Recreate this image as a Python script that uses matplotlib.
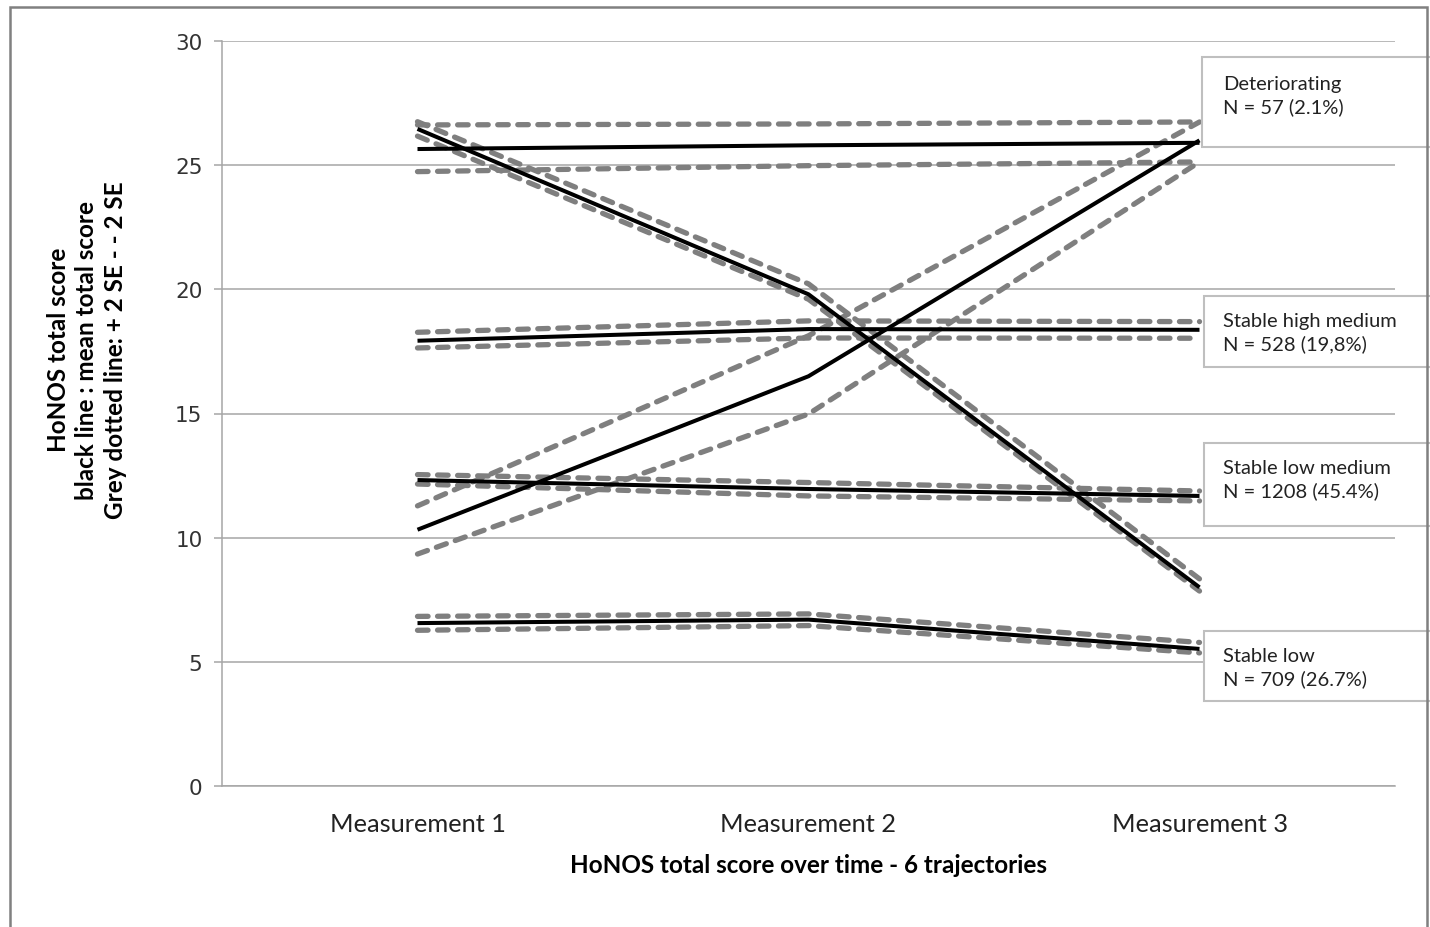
import numpy as np
import matplotlib.pyplot as plt
from matplotlib.patches import Rectangle

# categories on the x axis
measurements = ["Measurement 1", "Measurement 2", "Measurement 3"]

# mean total score per trajectory (black lines)
stable_high = [25.65, 25.8, 25.9]
improving = [26.46, 19.8, 8.0]
deteriorating = [10.32, 16.5, 26.0]
stable_high_medium = [17.93, 18.4, 18.37]
stable_low_medium = [12.32, 11.96, 11.68]
stable_low = [6.56, 6.7, 5.52]

# + 2 SE / - 2 SE bounds (grey dashed lines)
stable_high_upper = [26.62, 26.66, 26.74]
stable_high_lower = [24.74, 24.98, 25.13]
improving_upper = [26.75, 20.22, 8.34]
improving_lower = [26.17, 19.6, 7.85]
deteriorating_upper = [11.28, 18.13, 26.74]
deteriorating_lower = [9.34, 14.98, 25.13]
shm_upper = [18.27, 18.73, 18.7]
shm_lower = [17.64, 18.04, 18.03]
slm_upper = [12.54, 12.22, 11.88]
slm_lower = [12.16, 11.68, 11.48]
sl_upper = [6.83, 6.93, 5.78]
sl_lower = [6.27, 6.46, 5.36]

# text of the label boxes on the right
box_labels = ["Deteriorating\nN = 57 (2.1%)",
              "Stable high medium\nN = 528 (19,8%)",
              "Stable low medium\nN = 1208 (45.4%)",
              "Stable low\nN = 709 (26.7%)"]

means = [stable_high, improving, deteriorating, stable_high_medium,
         stable_low_medium, stable_low]
bounds = [stable_high_upper, stable_high_lower, improving_upper, improving_lower,
          deteriorating_upper, deteriorating_lower, shm_upper, shm_lower,
          slm_upper, slm_lower, sl_upper, sl_lower]

lato = ["Lato", "DejaVu Sans"]
W, H = 1430, 928

fig = plt.figure(figsize=(W / 100, H / 100), dpi=100)
ax = fig.add_axes([222 / W, 1 - 787 / H, (1395 - 222) / W, (787 - 42) / H])

x = np.arange(len(measurements))
for b in bounds:
    ax.plot(x, b, color="#7f7f7f", lw=3.8, ls=(0, (2.0, 1.8)),
            dash_capstyle="round", solid_capstyle="round", zorder=2)
for m in means:
    ax.plot(x, m, color="black", lw=2.9, solid_capstyle="butt", zorder=3)

ax.set_xlim(-0.5, 2.5)
ax.set_ylim(0, 30)
ax.set_yticks(range(0, 31, 5))
ax.set_xticks(x)
ax.set_xticklabels(measurements, fontsize=18.3, family=lato, color="#222222")
ax.yaxis.grid(True, color="#a6a6a6", lw=1.1)
ax.set_axisbelow(True)
for s in ["top", "right"]:
    ax.spines[s].set_visible(False)
for s in ["left", "bottom"]:
    ax.spines[s].set_color("#a6a6a6")
    ax.spines[s].set_linewidth(1.1)
ax.tick_params(axis="x", length=0, pad=19)
ax.tick_params(axis="y", length=6, width=1.1, color="#a6a6a6", pad=8,
               labelsize=15.5, labelcolor="#333333")

ax.set_xlabel("HoNOS total score over time - 6 trajectories", fontsize=17.5,
              family=lato, fontweight="bold", labelpad=13)
fig.text(87 / W, 1 - 350 / H,
         "HoNOS total score\nblack line : mean total score\nGrey dotted line: + 2 SE - - 2 SE",
         rotation=90, ha="center", va="center", fontsize=17.5, family=lato,
         fontweight="bold", linespacing=1.3)

# label boxes (pixel layout: left, top, bottom, text centre)
boxes = [(1202, 58, 148, 96), (1204, 297, 368, 333),
         (1204, 444, 527, 480), (1204, 632, 702, 668)]
for (x0, y0, y1, yc), lab in zip(boxes, box_labels):
    fig.patches.append(Rectangle((x0 / W, 1 - y1 / H), (1440 - x0) / W, (y1 - y0) / H,
                                 transform=fig.transFigure, facecolor="white",
                                 edgecolor="#bfbfbf", lw=1.5, zorder=5))
    fig.text(1223 / W, 1 - yc / H, lab, ha="left", va="center", fontsize=14.5,
             family=lato, color="#222222", linespacing=1.3, zorder=6)

# outer frame
fig.patches.append(Rectangle((10 / W, -0.05), (1427 - 10) / W, 1.05 - 8 / H,
                             transform=fig.transFigure, fill=False,
                             edgecolor="#808080", lw=1.8, zorder=7))

fig.savefig("out.png", dpi=100)
